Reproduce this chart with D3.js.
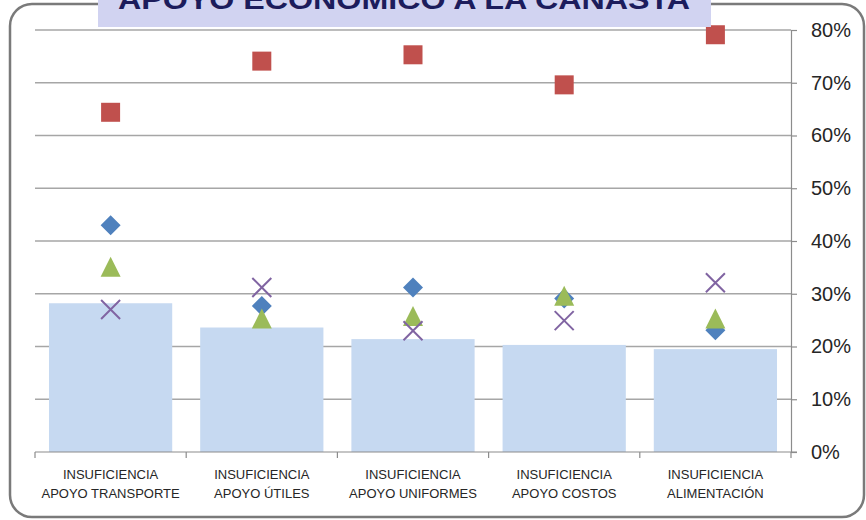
<!DOCTYPE html>
<html>
<head>
<meta charset="utf-8">
<script src="https://cdn.jsdelivr.net/npm/d3@7"></script>
<style>
  html, body { margin: 0; padding: 0; background: #ffffff; }
  svg { display: block; }
</style>
</head>
<body>
<div id="chart"></div>
<script>
// values (fractions)
var categories = [
  ["INSUFICIENCIA", "APOYO TRANSPORTE"],
  ["INSUFICIENCIA", "APOYO ÚTILES"],
  ["INSUFICIENCIA", "APOYO UNIFORMES"],
  ["INSUFICIENCIA", "APOYO COSTOS"],
  ["INSUFICIENCIA", "ALIMENTACIÓN"]
];
var barValues = [0.282, 0.236, 0.214, 0.203, 0.195];
var diamondValues = [0.430, 0.277, 0.312, 0.291, 0.231];
var squareValues = [0.644, 0.741, 0.753, 0.696, 0.791];
var triangleValues = [0.351, 0.253, 0.258, 0.296, 0.253];
var crossValues = [0.270, 0.312, 0.230, 0.249, 0.321];
var yTicks = [0, 0.1, 0.2, 0.3, 0.4, 0.5, 0.6, 0.7, 0.8];
var titleText = "APOYO ECONÓMICO A LA CANASTA";

var width = 866, height = 520;
var plotLeft = 35, plotRight = 791, plotTop = 30, plotBottom = 452;

var svg = d3.select("#chart").append("svg")
    .attr("width", width)
    .attr("height", height);

svg.append("rect")
    .attr("width", width).attr("height", height)
    .attr("fill", "#ffffff");

// outer rounded frame
svg.append("rect")
    .attr("x", 10).attr("y", 4)
    .attr("width", 854).attr("height", 513)
    .attr("rx", 22).attr("ry", 22)
    .attr("fill", "none")
    .attr("stroke", "#7a7a7a")
    .attr("stroke-width", 2.5);

var x = d3.scaleBand()
    .domain(d3.range(categories.length))
    .range([plotLeft, plotRight])
    .padding(0);

var y = d3.scaleLinear()
    .domain([0, 0.8])
    .range([plotBottom, plotTop]);

// gridlines
svg.append("g")
  .selectAll("line")
  .data(yTicks.filter(function(d) { return d > 0; }))
  .join("line")
    .attr("x1", plotLeft).attr("x2", plotRight)
    .attr("y1", function(d) { return y(d); })
    .attr("y2", function(d) { return y(d); })
    .attr("stroke", "#a6a6a6")
    .attr("stroke-width", 1.3);

// bars
var barW = x.bandwidth() * 0.815;
svg.append("g")
  .selectAll("rect")
  .data(barValues)
  .join("rect")
    .attr("x", function(d, i) { return x(i) + (x.bandwidth() - barW) / 2; })
    .attr("y", function(d) { return y(d); })
    .attr("width", barW)
    .attr("height", function(d) { return y(0) - y(d); })
    .attr("fill", "#c6d9f1");

// right axis
var yAxis = d3.axisRight(y)
    .tickValues(yTicks)
    .tickSize(6)
    .tickPadding(14)
    .tickFormat(d3.format(".0%"));
var gy = svg.append("g")
    .attr("transform", "translate(" + plotRight + ",0)")
    .call(yAxis);
gy.select(".domain").attr("stroke", "#8c8c8c").attr("stroke-width", 1.2);
gy.selectAll(".tick line").attr("stroke", "#8c8c8c").attr("stroke-width", 1.2);
gy.selectAll(".tick text")
    .attr("fill", "#262626")
    .style("font-family", "'Liberation Sans', Arial, sans-serif")
    .style("font-size", "20px");

// bottom axis
var bottom = svg.append("g");
bottom.append("line")
    .attr("x1", plotLeft).attr("x2", plotRight + 6)
    .attr("y1", plotBottom).attr("y2", plotBottom)
    .attr("stroke", "#8c8c8c").attr("stroke-width", 1.2);
bottom.selectAll("line.tk")
  .data(d3.range(categories.length + 1))
  .join("line")
    .attr("class", "tk")
    .attr("x1", function(i) { return plotLeft + i * x.step(); })
    .attr("x2", function(i) { return plotLeft + i * x.step(); })
    .attr("y1", plotBottom).attr("y2", plotBottom + 6)
    .attr("stroke", "#8c8c8c").attr("stroke-width", 1.2);

var labels = bottom.selectAll("text.cat")
  .data(categories)
  .join("text")
    .attr("class", "cat")
    .attr("text-anchor", "middle")
    .attr("fill", "#262626")
    .style("font-family", "'Liberation Sans', Arial, sans-serif")
    .style("font-size", "13px");
labels.each(function(d, i) {
  var t = d3.select(this);
  var cx = x(i) + x.bandwidth() / 2;
  d.forEach(function(line, k) {
    t.append("tspan")
      .attr("x", cx)
      .attr("y", 478.5 + k * 19.5)
      .text(line);
  });
});

// markers
var cxOf = function(i) { return x(i) + x.bandwidth() / 2; };

svg.append("g")
  .selectAll("path")
  .data(diamondValues)
  .join("path")
    .attr("d", function(d, i) {
      var cx = cxOf(i), cy = y(d), r = 10;
      return "M" + cx + "," + (cy - r) + "L" + (cx + r) + "," + cy +
             "L" + cx + "," + (cy + r) + "L" + (cx - r) + "," + cy + "Z";
    })
    .attr("fill", "#4f81bd");

svg.append("g")
  .selectAll("rect")
  .data(squareValues)
  .join("rect")
    .attr("x", function(d, i) { return cxOf(i) - 9.5; })
    .attr("y", function(d) { return y(d) - 9.5; })
    .attr("width", 19).attr("height", 19)
    .attr("fill", "#c0504d");

svg.append("g")
  .selectAll("path")
  .data(triangleValues)
  .join("path")
    .attr("d", function(d, i) {
      var cx = cxOf(i), cy = y(d), r = 10;
      return "M" + cx + "," + (cy - r) + "L" + (cx + r) + "," + (cy + r) +
             "L" + (cx - r) + "," + (cy + r) + "Z";
    })
    .attr("fill", "#9bbb59");

svg.append("g")
  .selectAll("path")
  .data(crossValues)
  .join("path")
    .attr("d", function(d, i) {
      var cx = cxOf(i), cy = y(d), r = 9.5;
      return "M" + (cx - r) + "," + (cy - r) + "L" + (cx + r) + "," + (cy + r) +
             "M" + (cx + r) + "," + (cy - r) + "L" + (cx - r) + "," + (cy + r);
    })
    .attr("fill", "none")
    .attr("stroke", "#8064a2")
    .attr("stroke-width", 2);

// title box, cut off at the top edge
svg.append("rect")
    .attr("x", 98).attr("y", -2)
    .attr("width", 613).attr("height", 29)
    .attr("fill", "#d1d3f1");
svg.append("text")
    .attr("x", 404).attr("y", 9)
    .attr("text-anchor", "middle")
    .attr("textLength", 572)
    .attr("lengthAdjust", "spacingAndGlyphs")
    .attr("fill", "#1c1c5c")
    .style("font-family", "'Liberation Sans', Arial, sans-serif")
    .style("font-weight", "bold")
    .style("font-size", "28px")
    .text(titleText);
</script>
</body>
</html>
